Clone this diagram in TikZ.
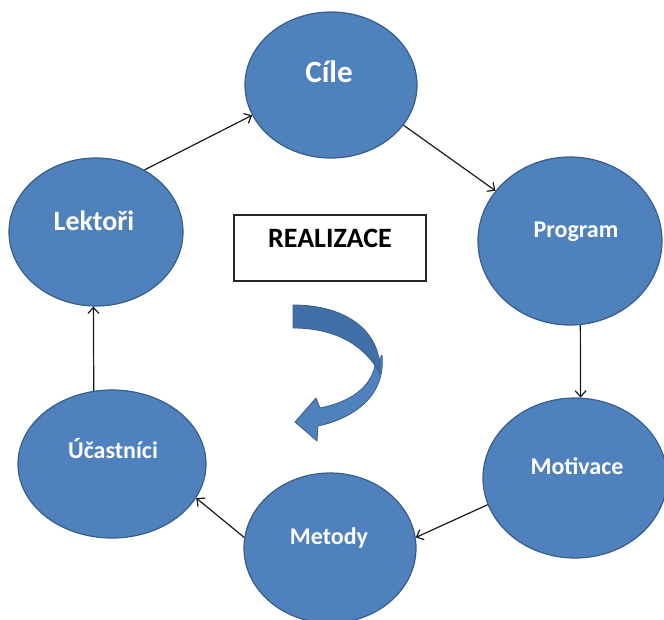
\documentclass[tikz,border=0pt]{standalone}
\usepackage{fontspec}
\setmainfont{Carlito}
\usetikzlibrary{arrows.meta,shapes.geometric}
\definecolor{bubblefill}{HTML}{4F81BD}
\definecolor{bubbleline}{HTML}{385D8A}
\definecolor{turnlight}{HTML}{4F81BD}
\definecolor{turndark}{HTML}{4170A9}
\tikzset{
  bubble/.style={ellipse, draw=bubbleline, line width=1.2pt, fill=bubblefill, inner sep=0pt},
  bubbletext/.style={anchor=base, text=white, inner sep=0pt,
    font=\bfseries\fontsize{24}{28}\selectfont},
  link/.style={draw=black!90, line width=1.2pt, -{Straight Barb[length=6pt,width=11pt]}},
  realbox/.style={draw=black!85, line width=1.1pt, fill=white, inner sep=0pt,
    minimum width=192pt, minimum height=66pt},
  turnedge/.style={draw=bubbleline, line width=0.8pt, line join=round},
}
\begin{document}
\begin{tikzpicture}[x=1pt, y=-1pt]
\useasboundingbox (0,0) rectangle (664,619);

% cycle of activities
\node[bubble, minimum width=172pt, minimum height=146pt] (cile)      at (331,85)  {};
\node[bubble, minimum width=184pt, minimum height=168pt] (program)   at (570,241) {};
\node[bubble, minimum width=184pt, minimum height=160pt] (motivace)  at (575,478) {};
\node[bubble, minimum width=172pt, minimum height=150pt] (metody)    at (330,548) {};
\node[bubble, minimum width=188pt, minimum height=148pt] (ucastnici) at (112,464) {};
\node[bubble, minimum width=174pt, minimum height=148pt] (lektori)   at (96,232)  {};

\node[bubbletext, font=\bfseries\fontsize{31}{36}\selectfont] (cileT) at (329,82) {Cíle};
\node[bubbletext] (programT)   at (576,237) {Program};
\node[bubbletext] (motivaceT)  at (577,474) {Motivace};
\node[bubbletext] (metodyT)    at (329,544) {Metody};
\node[bubbletext] (ucastniciT) at (113,458) {Účastníci};
\node[bubbletext, font=\bfseries\fontsize{28}{32}\selectfont] (lektoriT) at (94,230) {Lektoři};

% connectors between the stages
\draw[link] (lektori.52)    -- (cile.201);
\draw[link] (cile.331)      -- (program.146);
\draw[link] (program.277)   -- (motivace.86);
\draw[link] (motivace.197)  -- (metody.7);
\draw[link] (metody.173)    -- (ucastnici.338);
\draw[link] (ucastnici.104) -- (lektori.268);

% central label
\node[realbox] (realbox) at (330,248) {};
\node[anchor=base, inner sep=0pt, font=\bfseries\fontsize{28}{32}\selectfont] (realtext) at (330,247) {REALIZACE};

% curved turning arrow: lower (light) part first, upper (dark) band on top
\path[turnedge, fill=turnlight]
  (382,355) .. controls (386,395) and (355,418) .. (318,426)
  -- (317,441) -- (295,422) -- (316,398) -- (320,408)
  .. controls (350,402) and (370,388) .. (375,366) -- cycle;
\path[turnedge, fill=turndark]
  (293,305) .. controls (345,305) and (382,330) .. (380,374)
  .. controls (365,345) and (335,328) .. (293,328) -- cycle;
\end{tikzpicture}
\end{document}
